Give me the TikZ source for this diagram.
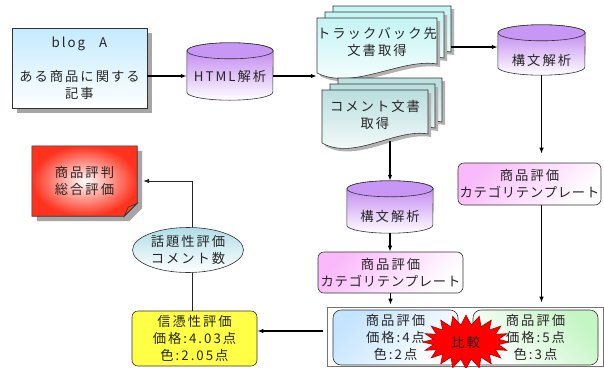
\documentclass[tikz,border=0pt]{standalone}
\usepackage{fontspec}
\newfontfamily\jp[LetterSpace=15]{Noto Sans CJK JP}
\newfontfamily\jpn[LetterSpace=6]{Noto Sans CJK JP}
\usetikzlibrary{shapes.geometric,shapes.symbols,shadows,arrows.meta,calc}
\definecolor{blogc}{RGB}{196,234,255}
\definecolor{cylc}{RGB}{186,120,238}
\definecolor{cyltopc}{RGB}{200,150,245}
\definecolor{tbc}{RGB}{196,244,244}
\definecolor{cmtc}{RGB}{186,222,222}
\definecolor{pinkc}{RGB}{250,185,250}
\definecolor{bluec}{RGB}{196,228,255}
\definecolor{greenc}{RGB}{196,245,196}
\definecolor{yelc}{RGB}{255,255,70}
\definecolor{ellc}{RGB}{176,222,232}
\definecolor{redc}{RGB}{255,50,30}
\definecolor{flapc}{RGB}{230,80,40}
\newcommand\cylinderpath[3]{%
 \path[cylbody] ($(#1.north west)+(0,#3)$) -- ($(#1.south west)+(0,-#3)$)
   arc[start angle=180,end angle=0,x radius=#2,y radius=#3]
   -- ($(#1.north east)+(0,#3)$)
   arc[start angle=0,end angle=-180,x radius=#2,y radius=#3] -- cycle;
 \path[cyltop] ($(#1.north)+(0,#3)$) ellipse[x radius=#2,y radius=#3];
}
\newcommand\docpage[5]{%
 \path[#1] (#2,#3) -- (#4,#3) -- (#4,#5-9)
   .. controls ({#4-0.3*(#4-#2)},#5-15) and ({#2+0.3*(#4-#2)},#5+18) .. (#2,#5) -- cycle;}
\tikzset{
 txt/.style={font=\jp\fontsize{13.3}{17}\selectfont, align=center, text=black!85, inner sep=0pt},
 ghost/.style={inner sep=0pt, draw=none},
 edgebox/.style={draw=black!80, line width=0.6pt},
 shadowed/.style={drop shadow={shadow xshift=5pt, shadow yshift=-5pt, fill=black!35, opacity=1}},
 pageshadow/.style={drop shadow={shadow xshift=3pt, shadow yshift=-3pt, fill=black!30, opacity=1}},
 cylbody/.style={edgebox, top color=cylc, bottom color=white},
 cyltop/.style={edgebox, fill=cyltopc},
 tbpage/.style={edgebox, pageshadow, top color=tbc, bottom color=white},
 cmtpage/.style={edgebox, pageshadow, top color=cmtc, bottom color=white},
 rbox/.style={txt, edgebox, rounded corners=6pt},
 arr/.style={-{Latex[length=6pt,width=4.5pt]}, line width=1.3pt, black},
 thinarr/.style={-{Latex[length=6pt,width=4.5pt]}, line width=0.7pt, black!85},
}
\begin{document}
\begin{tikzpicture}[x=1pt,y=-1pt]
\useasboundingbox[fill=white] (0,0) rectangle (604,367);

% blog A
\node[txt, edgebox, shadowed, top color=blogc, bottom color=white,
      minimum width=135pt, minimum height=80pt] (blog) at (79.5,68)
      {blog\hspace{14pt}A\\\mbox{}\\ある商品に関する\\記事};

% HTML cylinder
\node[ghost, minimum width=86pt, minimum height=57pt] (html) at (230,71.5) {};
\cylinderpath{html}{43}{8}
\node[txt] (htmltxt) at (230,76) {HTML解析};

% trackback documents
\node[ghost, minimum width=134pt, minimum height=67pt] (tbstack) at (384,39.5) {};
\docpage{tbpage}{333}{6}{451}{61}
\docpage{tbpage}{325}{12}{444}{67}
\docpage{tbpage}{317}{18}{437}{73}
\node[txt] (tb) at (377,42) {トラックバック先\\文書取得};

% parse 1
\node[ghost, minimum width=87pt, minimum height=50pt] (parse1) at (541.5,50) {};
\cylinderpath{parse1}{43.5}{8}
\node[txt] (parse1txt) at (541.5,60) {構文解析};

% comment documents
\node[ghost, minimum width=120pt, minimum height=65pt] (cmtstack) at (382,110.5) {};
\docpage{cmtpage}{338}{78}{442}{131}
\docpage{cmtpage}{330}{84}{435}{137}
\docpage{cmtpage}{322}{90}{428}{143}
\node[txt] (cmt) at (375,115) {コメント文書\\取得};

% parse 2
\node[ghost, minimum width=86pt, minimum height=52pt] (parse2) at (390,207) {};
\cylinderpath{parse2}{43}{8}
\node[txt] (parse2txt) at (390,216) {構文解析};

% templates
\node[rbox, top color=pinkc, bottom color=white, shading angle=45,
      minimum width=143pt, minimum height=42pt] (tmplR) at (529.5,184)
      {商品評価\\{\jpn カテゴリテンプレート}};
\node[rbox, top color=pinkc, bottom color=white, shading angle=45,
      minimum width=145pt, minimum height=41pt] (tmplM) at (390.5,272.5)
      {商品評価\\{\jpn カテゴリテンプレート}};

% comparison frame
\node[ghost, draw=black!55, line width=0.6pt, fill=white,
      minimum width=276pt, minimum height=59pt] (outer) at (465,336.5) {};
\node[rbox, rounded corners=8pt, top color=bluec, bottom color=white, shading angle=45,
      minimum width=125pt, minimum height=55pt] (blue) at (395.5,337.5)
      {商品評価\\価格:4点\\色:2点};
\node[rbox, rounded corners=8pt, top color=greenc, bottom color=white, shading angle=-45,
      minimum width=125pt, minimum height=55pt] (green) at (535.5,337.5)
      {商品評価\\価格:5点\\色:3点};
\node[txt, starburst, random starburst=0, starburst points=20, starburst point height=10pt,
      fill=red, draw=red!70!black, line width=0.6pt,
      minimum width=86pt, minimum height=54pt] (star) at (466,342) {比較};

% reliability (yellow)
\node[rbox, top color=yelc, middle color=yelc!45, bottom color=yelc,
      minimum width=125pt, minimum height=55pt] (yellow) at (194.5,338.5)
      {信憑性評価\\価格:4.03点\\色:2.05点};

% result (red, folded corner)
\node[ghost, minimum width=105pt, minimum height=70pt] (red) at (84.5,181) {};
\path[edgebox, shadowed, inner color=white, outer color=redc]
  (red.north west) -- (red.north east) -- ($(red.south east)+(0,-13)$)
  -- ($(red.south east)+(-13,0)$) -- (red.south west) -- cycle;
\path[edgebox, fill=flapc]
  ($(red.south east)+(0,-13)$) -- ($(red.south east)+(-13,0)$)
  -- ($(red.south east)+(-9,-9)$) -- cycle;
\node[txt] (redtxt) at (red) {商品評判\\総合評価};

% connectors
\draw[arr] (blog.east |- htmltxt) -- (html.west |- htmltxt);
\draw[arr] (html.east |- htmltxt) -- (tbstack.west |- htmltxt);
\draw[arr] (tbstack.east |- 0,47) -- (parse1.west |- 0,47);
\draw[arr, shorten >=9pt] (parse1.south) -- (parse1.south |- tmplR.north);
\draw[arr, shorten >=4pt] (parse1.south |- tmplR.south) -- (parse1.south |- outer.north);
\draw[arr, shorten <=-2pt] (cmtstack.south -| parse2) -- (parse2.north);
\draw[arr] (parse2.south) -- (parse2.south |- tmplM.north);
\draw[arr, shorten >=2pt] (tmplM.south) -- (tmplM.south |- outer.north);
\draw[arr] ($(outer.west)+(-4,-5.5)$) coordinate (o1) -- (o1 -| yellow.east);

% topic evaluation on the line to the result
\draw[line width=0.7pt, black!85] (yellow.north -| 192,0) -- (192,250);
\draw[thinarr, shorten >=6pt] (192,250) |- (red.east);
\node[txt, ellipse, edgebox, top color=ellc, bottom color=white,
      minimum width=111pt, minimum height=45pt] (topic) at (188,250)
      {話題性評価\\コメント数};
\end{tikzpicture}
\end{document}
